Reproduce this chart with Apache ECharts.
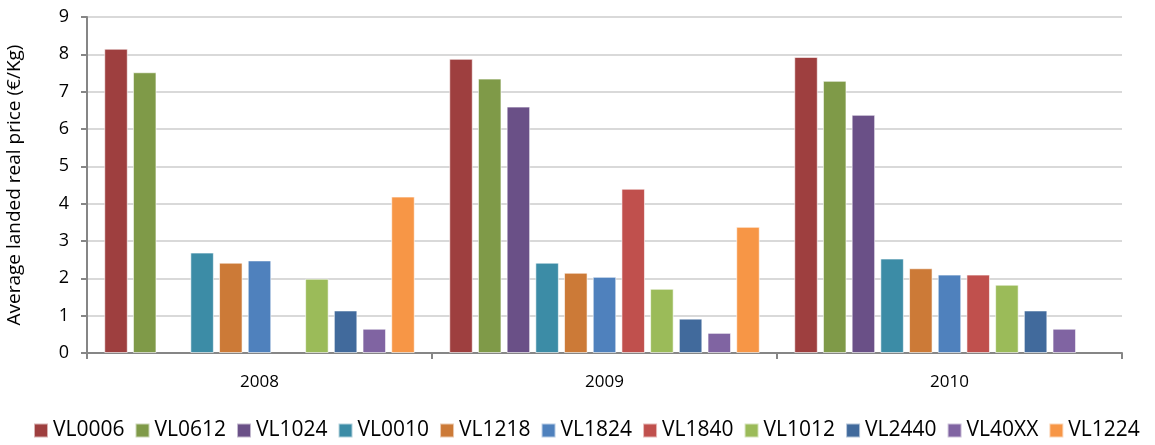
<!DOCTYPE html>
<html>
<head>
<meta charset="utf-8">
<script src="https://cdn.jsdelivr.net/npm/echarts@6/dist/echarts.min.js"></script>
<style>
  html, body { margin: 0; padding: 0; background: #fff; }
  #chart { width: 1155px; height: 445px; }
</style>
</head>
<body>
<div id="chart"></div>
<script>
// Average landed real price per size class, by year
const years = ['2008', '2009', '2010'];
const yTicks = [0, 1, 2, 3, 4, 5, 6, 7, 8, 9];

const VL0006 = [8.15, 7.88, 7.93];
const VL0612 = [7.52, 7.35, 7.29];
const VL1024 = [null, 6.60, 6.38];
const VL0010 = [2.69, 2.42, 2.53];
const VL1218 = [2.42, 2.15, 2.27];
const VL1824 = [2.48, 2.04, 2.10];
const VL1840 = [null, 4.40, 2.10];
const VL1012 = [1.99, 1.72, 1.83];
const VL2440 = [1.14, 0.92, 1.14];
const VL40XX = [0.65, 0.54, 0.65];
const VL1224 = [4.19, 3.38, null];

const seriesList = [
  ['VL0006', VL0006, '#9E3F3F'],
  ['VL0612', VL0612, '#7F9A48'],
  ['VL1024', VL1024, '#6A5087'],
  ['VL0010', VL0010, '#3C8CA6'],
  ['VL1218', VL1218, '#CC7A37'],
  ['VL1824', VL1824, '#4F81BD'],
  ['VL1840', VL1840, '#C0504D'],
  ['VL1012', VL1012, '#9BBB59'],
  ['VL2440', VL2440, '#416A9C'],
  ['VL40XX', VL40XX, '#8064A2'],
  ['VL1224', VL1224, '#F79646']
];

const font = '"Open Sans", sans-serif';
const chart = echarts.init(document.getElementById('chart'), null, { renderer: 'canvas' });

chart.setOption({
  animation: false,
  textStyle: { fontFamily: font },
  grid: { left: 87, right: 33, top: 17, bottom: 92, outerBoundsMode: 'none' },
  legend: {
    top: 420,
    left: 33,
    width: 1122,
    padding: 0,
    itemWidth: 14,
    itemHeight: 14,
    itemGap: 10,
    icon: 'rect',
    textStyle: { fontSize: 21, color: '#000', fontFamily: font },
    data: seriesList.map(s => s[0])
  },
  xAxis: {
    type: 'category',
    data: years,
    axisLine: { lineStyle: { color: '#868686', width: 2 } },
    axisTick: { show: true, length: 6, lineStyle: { color: '#868686', width: 2 } },
    axisLabel: { fontSize: 17, color: '#000', margin: 21, fontFamily: font }
  },
  yAxis: {
    type: 'value',
    min: 0,
    max: 9,
    interval: 1,
    name: 'Average landed real price (€/Kg)',
    nameLocation: 'middle',
    nameRotate: 90,
    nameGap: 63,
    nameTextStyle: { fontSize: 19, color: '#000', fontFamily: font },
    axisLine: { show: true, lineStyle: { color: '#868686', width: 2 } },
    axisTick: { show: true, length: 6, lineStyle: { color: '#868686', width: 2 } },
    axisLabel: {
      fontSize: 18, color: '#000', margin: 18, fontFamily: font,
      formatter: v => yTicks.includes(v) ? String(v) : ''
    },
    splitLine: { lineStyle: { color: '#D9D9D9', width: 2 } }
  },
  series: seriesList.map(([name, data, color]) => ({
    name,
    type: 'bar',
    data,
    barCategoryGap: '10%',
    barGap: '22%',
    itemStyle: { color, borderColor: 'rgba(255,255,255,0.6)', borderWidth: 1 }
  }))
});
</script>
</body>
</html>
